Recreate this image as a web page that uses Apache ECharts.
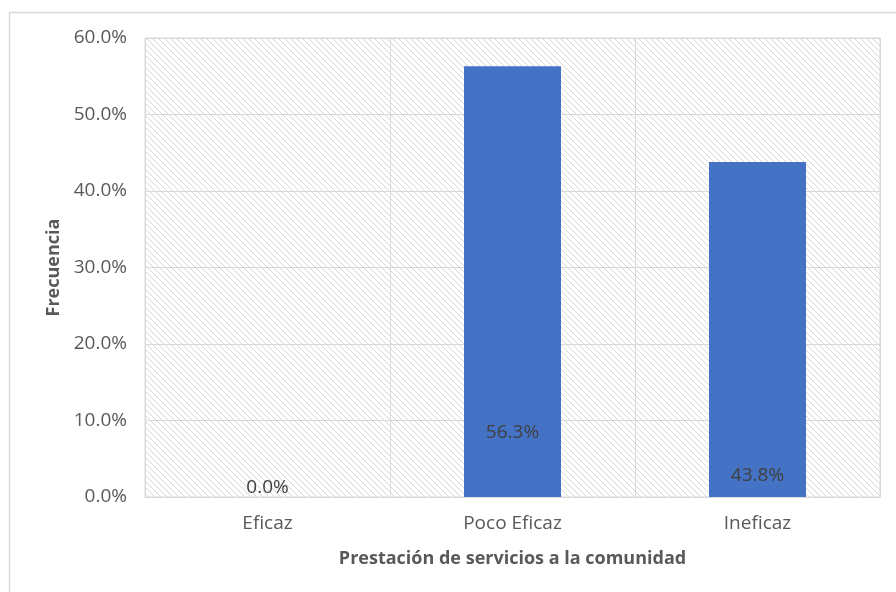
<!DOCTYPE html>
<html><head><meta charset="utf-8">
<script src="https://cdn.jsdelivr.net/npm/echarts@6/dist/echarts.min.js"></script>
<style>html,body{margin:0;padding:0;background:#fff}#c{width:896px;height:592px}</style>
</head><body><div id="c"></div>
<script>
const categories = ['Eficaz', 'Poco Eficaz', 'Ineficaz'];
const frecuencia = [0.0, 56.3, 43.8];
const labelLift = [0, 55, 12];
const yTicks = {min: 0, max: 60, interval: 10};

const pat = document.createElement('canvas');
pat.width = 6; pat.height = 6;
const g = pat.getContext('2d');
g.fillStyle = '#ffffff'; g.fillRect(0,0,6,6);
g.strokeStyle = '#d6d6d6'; g.lineWidth = 1;
g.beginPath(); g.moveTo(-1,-1); g.lineTo(7,7); g.stroke();
g.beginPath(); g.moveTo(-1,5); g.lineTo(1,7); g.stroke();
g.beginPath(); g.moveTo(5,-1); g.lineTo(7,1); g.stroke();

const FONT = 'Open Sans';
const chart = echarts.init(document.getElementById('c'), null, {renderer: 'canvas'});
chart.setOption({
  animation: false,
  textStyle: {fontFamily: FONT},
  graphic: [{type: 'rect', shape: {x: 9.5, y: 12.5, width: 900, height: 600}, style: {fill: 'none', stroke: '#d9d9d9', lineWidth: 1.5}, silent: true}],
  grid: {left: 145, right: 16, top: 38, bottom: 95, show: true, backgroundColor: {image: pat, repeat: 'repeat'}, borderColor: '#d9d9d9', borderWidth: 1},
  xAxis: {
    type: 'category', data: categories,
    name: 'Prestación de servicios a la comunidad', nameLocation: 'middle', nameGap: 53,
    nameTextStyle: {fontFamily: FONT, fontSize: 18, fontWeight: 'bold', color: '#595959'},
    axisLine: {lineStyle: {color: '#d9d9d9'}}, axisTick: {show: false},
    axisLabel: {fontFamily: FONT, fontSize: 19, color: '#595959', margin: 17},
    splitLine: {show: true, lineStyle: {color: '#d9d9d9'}}
  },
  yAxis: {
    type: 'value', min: yTicks.min, max: yTicks.max, interval: yTicks.interval,
    name: 'Frecuencia', nameLocation: 'middle', nameGap: 82, nameRotate: 90,
    nameTextStyle: {fontFamily: FONT, fontSize: 18, fontWeight: 'bold', color: '#595959'},
    axisLine: {show: false}, axisTick: {show: false},
    axisLabel: {fontFamily: FONT, fontSize: 19, color: '#595959', margin: 18, formatter: v => v.toFixed(1) + '%'},
    splitLine: {show: true, lineStyle: {color: '#d9d9d9'}}
  },
  series: [{
    type: 'bar', barWidth: 97,
    itemStyle: {color: '#4472c4'},
    data: frecuencia.map((v, i) => ({value: v, label: {distance: labelLift[i]}})),
    label: {show: true, position: 'insideBottom', fontFamily: FONT, fontSize: 19, color: '#404040', formatter: p => p.value.toFixed(1) + '%'}
  }]
});
</script></body></html>
